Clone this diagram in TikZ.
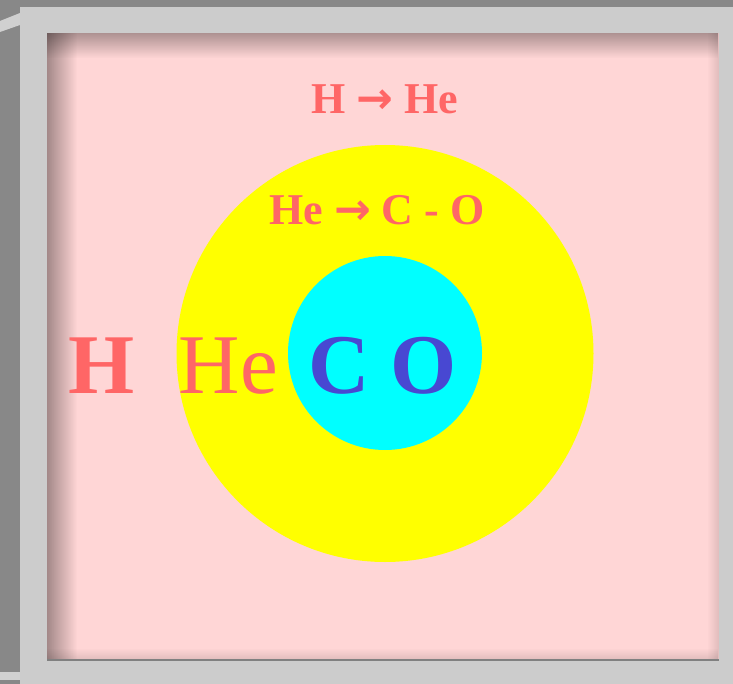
\documentclass[tikz,border=0pt]{standalone}
\usepackage{fontspec}
\setmainfont{Liberation Serif}
\newfontfamily\arrowfont{DejaVu Sans}
\usepackage{xcolor}
\usetikzlibrary{fadings}

\definecolor{outergray}{RGB}{136,136,136}
\definecolor{framegray}{RGB}{204,204,204}
\definecolor{stripgray}{RGB}{208,208,208}
\definecolor{skypink}{RGB}{255,214,214}
\definecolor{heyellow}{RGB}{255,255,0}
\definecolor{cocyan}{RGB}{0,255,255}
\definecolor{fusionred}{RGB}{255,102,102}
\definecolor{coreblue}{RGB}{72,72,210}

\tikzfading[name=fadefromleft, left color=transparent!0, right color=transparent!100]
\tikzfading[name=fadefromright, left color=transparent!100, right color=transparent!0]
\tikzfading[name=fadefromtop, top color=transparent!0, bottom color=transparent!100]
\tikzfading[name=fadefrombottom, top color=transparent!100, bottom color=transparent!0]

\newcommand{\fusearrow}{{\arrowfont\bfseries →}}

\tikzset{
    shelltext/.style={inner sep=0pt, anchor=base, text=fusionred, font=\fontsize{44}{44}\selectfont\bfseries},
    elemtext/.style={inner sep=0pt, anchor=base, font=\fontsize{85}{85}\selectfont}
}

\begin{document}
\begin{tikzpicture}[x=1pt, y=-1pt]
            \useasboundingbox (0,0) rectangle (733,684);
            \fill[outergray] (0,0) rectangle (733,684);
            \fill[framegray] (20,7) rectangle (733,684);
            \fill[stripgray] (0,21) -- (20,13) -- (20,25) -- (0,32) -- cycle;
            \fill[stripgray] (0,672) rectangle (20,680);
            \fill[skypink] (47,33) rectangle (719,660);
            \fill[black, opacity=0.36, path fading=fadefromleft] (47,33) rectangle (77,660);
            \fill[black, opacity=0.32, path fading=fadefromtop] (47,33) rectangle (719,58);
            \fill[black, opacity=0.12, path fading=fadefromright] (707,33) rectangle (719,660);
            \fill[black, opacity=0.12, path fading=fadefrombottom] (47,648) rectangle (719,660);
            \draw[gray, line width=1.2pt] (47,660) -- (719,660);
            \fill[heyellow] (385,353.5) circle[radius=208.5pt];
            \fill[cocyan] (385,353) circle[radius=97pt];
            \node[shelltext] (hburn) at (385,114) {H \fusearrow{} He};
            \node[shelltext] (heburn) at (377,225) {He \fusearrow{} C - O};
            \node[elemtext, font=\fontsize{85}{85}\selectfont\bfseries, text=fusionred] (hshell) at (101.5,393) {H};
            \node[elemtext, text=fusionred] (heshell) at (228.5,393) {He};
            \node[elemtext, font=\fontsize{85}{85}\selectfont\bfseries, text=coreblue] (cocore) at (382.5,393) {C O};
\end{tikzpicture}
\end{document}
